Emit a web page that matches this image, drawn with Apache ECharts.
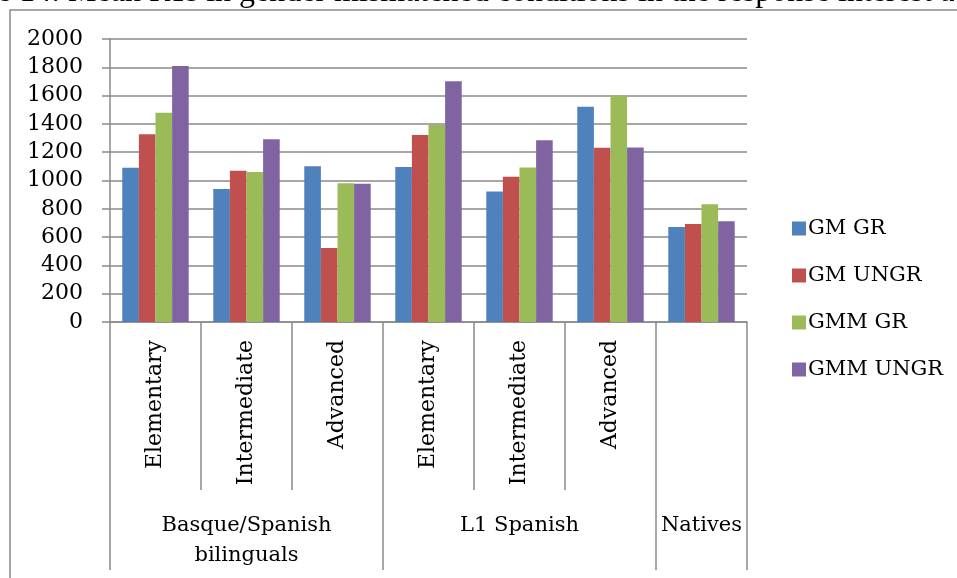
<!DOCTYPE html>
<html>
<head>
<meta charset="utf-8">
<script src="https://cdn.jsdelivr.net/npm/echarts@6/dist/echarts.min.js"></script>
<style>
  html, body { margin: 0; padding: 0; background: #fff; }
  #chart { width: 957px; height: 578px; }
</style>
</head>
<body>
<div id="chart"></div>
<script>
// proficiency levels along the axis
var levels = ['Elementary', 'Intermediate', 'Advanced', 'Elementary', 'Intermediate', 'Advanced', ''];
// participant groups and how many levels each one spans
var groups = ['Basque/Spanish\nbilinguals', 'L1 Spanish', 'Natives'];
var groupSizes = [3, 3, 1];

var seriesNames = ['GM GR', 'GM UNGR', 'GMM GR', 'GMM UNGR'];
var gmGr    = [1090,  940, 1100, 1095,  923, 1522, 671];
var gmUngr  = [1326, 1069,  523, 1321, 1027, 1232, 693];
var gmmGr   = [1479, 1060,  980, 1392, 1091, 1600, 832];
var gmmUngr = [1810, 1291,  977, 1701, 1284, 1234, 712];

var yTicks = { min: 0, max: 2000, step: 200 };

var colors = ['#4F81BD', '#C0504D', '#9BBB59', '#8064A2'];
var lineColor = '#8a8a8a';
var serif = 'DejaVu Serif';

// second axis: group name on the middle level of each group, ticks at group starts
var groupLabels = [];
var groupStarts = {};
var pos = 0;
groups.forEach(function (g, i) {
  groupStarts[pos] = true;
  for (var k = 0; k < groupSizes[i]; k++) {
    groupLabels.push(k === Math.floor((groupSizes[i] - 1) / 2) ? g : '');
  }
  pos += groupSizes[i];
});

var chart = echarts.init(document.getElementById('chart'));

var values = [gmGr, gmUngr, gmmGr, gmmUngr];

chart.setOption({
  animation: false,
  color: colors,
  grid: { left: 110, right: 210, top: 39, bottom: 256, containLabel: false },
  legend: {
    orient: 'vertical',
    left: 787,
    top: 213,
    itemWidth: 14,
    itemHeight: 14,
    itemGap: 26,
    icon: 'rect',
    textStyle: { fontFamily: serif, fontSize: 21, color: '#000', padding: [0, 0, 0, -3] },
    data: seriesNames
  },
  xAxis: [{
    type: 'category',
    data: levels,
    position: 'bottom',
    axisLine: { show: true, lineStyle: { color: lineColor, width: 1.5 } },
    axisTick: { show: true, interval: 0, length: 168, lineStyle: { color: lineColor, width: 1.5 } },
    axisLabel: {
      interval: 0,
      rotate: 90,
      margin: 18,
      fontFamily: serif,
      fontSize: 22,
      color: '#000'
    }
  }, {
    type: 'category',
    data: groupLabels,
    position: 'bottom',
    axisLine: { show: false },
    axisTick: {
      show: true,
      interval: function (index) { return !!groupStarts[index]; },
      length: 248,
      lineStyle: { color: lineColor, width: 1.5 }
    },
    axisLabel: {
      interval: 0,
      margin: 189,
      fontFamily: serif,
      fontSize: 21,
      lineHeight: 30,
      color: '#000'
    }
  }],
  yAxis: {
    type: 'value',
    min: yTicks.min,
    max: yTicks.max,
    interval: yTicks.step,
    axisLine: { show: true, lineStyle: { color: lineColor, width: 1.5 } },
    axisTick: { show: true, length: 8, lineStyle: { color: lineColor, width: 1.5 } },
    splitLine: { lineStyle: { color: lineColor, width: 1.5 } },
    axisLabel: {
      margin: 27, fontFamily: serif, fontSize: 22, color: '#000',
      formatter: function (v) { return String(v); }
    }
  },
  graphic: [{
    type: 'rect',
    shape: { x: 10, y: 10, width: 1000, height: 620 },
    style: { fill: null, stroke: lineColor, lineWidth: 1.5 },
    silent: true
  }, {
    type: 'text',
    x: -3,
    y: 9,
    style: {
      text: 'e 14: Mean RTs in gender mismatched conditions in the response interest a',
      font: '32px "Liberation Serif"',
      fill: '#000',
      verticalAlign: 'bottom'
    },
    silent: true
  }],
  series: seriesNames.map(function (name, i) {
    return {
      name: name,
      type: 'bar',
      data: values[i],
      barGap: '0%',
      barCategoryGap: '27%',
      itemStyle: { color: colors[i] }
    };
  })
});
</script>
</body>
</html>
